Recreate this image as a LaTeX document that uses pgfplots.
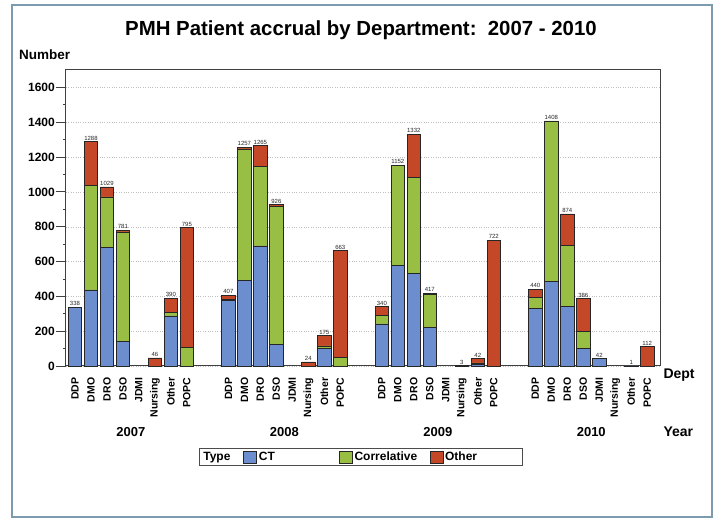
\documentclass[border=0pt]{standalone}
\usepackage{pgfplots}
\pgfplotsset{compat=1.18}
\usepackage{pgfplotstable}
\usetikzlibrary{calc}
\usepackage{fontspec}
\setmainfont{Liberation Sans}
\definecolor{ctc}{RGB}{108,141,206}
\definecolor{corc}{RGB}{152,190,67}
\definecolor{othc}{RGB}{196,72,40}
\definecolor{framec}{RGB}{125,155,175}
\pgfplotstableread{
x CT Corr Oth tot lab
0 338 0 0 338 338
1 437 599 252 1288 1288
2 681 290 58 1029 1029
3 140 630 11 781 781
4 0 0 0 0 {}
5 0 0 46 46 46
6 288 20 82 390 390
7 0 108 687 795 795
9.6 378 5 24 407 407
10.6 492 755 10 1257 1257
11.6 690 457 118 1265 1265
12.6 122 796 8 926 926
13.6 0 0 0 0 {}
14.6 0 0 24 24 24
15.6 100 15 60 175 175
16.6 0 48 615 663 663
19.2 242 48 50 340 340
20.2 577 575 0 1152 1152
21.2 533 550 249 1332 1332
22.2 222 188 7 417 417
23.2 0 0 0 0 {}
24.2 0 0 3 3 3
25.2 8 10 24 42 42
26.2 0 0 722 722 722
28.8 332 63 45 440 440
29.8 487 921 0 1408 1408
30.8 341 351 182 874 874
31.8 100 100 186 386 386
32.8 42 0 0 42 42
33.8 0 0 0 0 {}
34.8 1 0 0 1 1
35.8 0 0 112 112 112
}\datatab
\begin{document}
\begin{tikzpicture}[x=1pt,y=1pt]
\begin{axis}[
  scale only axis, width=594pt, height=296pt,
  clip=false,
  ybar stacked, bar width=13.5pt,
  xmin=-0.56, xmax=36.6, ymin=0, ymax=1700,
  ytick={0,200,...,1600}, minor y tick num=1,
  ytick pos=left, tick align=outside,
  major tick length=10pt, minor tick length=3pt,
  ymajorgrids, major grid style={dotted, black!25},
  axis line style={black!75, line width=1pt},
  every tick/.style={black!75, line width=0.8pt},
  yticklabel style={font=\bfseries\fontsize{12}{14}\selectfont, inner sep=1pt, /pgf/number format/assume math mode=true},
  /pgf/number format/1000 sep={},
  xtick={0,1,2,3,4,5,6,7,9.6,10.6,11.6,12.6,13.6,14.6,15.6,16.6,19.2,20.2,21.2,22.2,23.2,24.2,25.2,26.2,28.8,29.8,30.8,31.8,32.8,33.8,34.8,35.8},
  xticklabels={DDP,DMO,DRO,DSO,JDMI,Nursing,Other,POPC,DDP,DMO,DRO,DSO,JDMI,Nursing,Other,POPC,DDP,DMO,DRO,DSO,JDMI,Nursing,Other,POPC,DDP,DMO,DRO,DSO,JDMI,Nursing,Other,POPC},
  xtick style={draw=none},
  xticklabel style={rotate=90, anchor=east, font=\bfseries\fontsize{10.5}{12}\selectfont, inner sep=1.5pt},
  legend columns=4,
  legend image code/.code={\draw[#1] (0pt,-6pt) rectangle (13pt,6pt);},
  legend style={at={(0.497,-0.307)}, anchor=center, draw=black!70, line width=1pt,
    font=\bfseries\fontsize{12}{13}\selectfont, inner sep=1.5pt,
    /tikz/every even column/.append style={column sep=3pt}},
]
\addlegendimage{empty legend}
\addlegendentry{\makebox[35pt][l]{Type}}
\addplot[fill=ctc, draw=black!85, line width=0.6pt] table[x=x, y=CT] {\datatab};
\addlegendentry{\makebox[75pt][l]{CT}}
\addplot[fill=corc, draw=black!85, line width=0.6pt] table[x=x, y=Corr] {\datatab};
\addlegendentry{\makebox[70pt][l]{Correlative}}
\addplot[fill=othc, draw=black!85, line width=0.6pt] table[x=x, y=Oth] {\datatab};
\addlegendentry{\makebox[74pt][l]{Other}}
\coordinate (O) at (rel axis cs:0,0);
\coordinate (P) at (axis cs:0,0);
\node[font=\bfseries\fontsize{13}{15}\selectfont] at (axis cs:3.5,0) [yshift=-66pt] {2007};
\node[font=\bfseries\fontsize{13}{15}\selectfont] at (axis cs:13.1,0) [yshift=-66pt] {2008};
\node[font=\bfseries\fontsize{13}{15}\selectfont] at (axis cs:22.7,0) [yshift=-66pt] {2009};
\node[font=\bfseries\fontsize{13}{15}\selectfont] at (axis cs:32.3,0) [yshift=-66pt] {2010};
\end{axis}
\begin{axis}[
  at={(P)}, anchor=origin,
  scale only axis, width=594pt, height=296pt,
  clip=false, hide axis,
  xmin=-0.56, xmax=36.6, ymin=0, ymax=1700,
]
\addplot[draw=none, mark=none,
  point meta=explicit symbolic,
  nodes near coords={\pgfplotspointmeta},
  every node near coord/.append style={font=\fontsize{6}{7}\selectfont, inner sep=1.2pt, black!85, anchor=south}]
  table[x=x, y=tot, meta=lab] {\datatab};
\end{axis}
\begin{scope}[shift={($(O)+(-66pt,-161pt)$)}]
\path[use as bounding box] (0,0) rectangle (715,527);
\draw[framec, line width=2pt] (12,10) rectangle (712,522);
\node[font=\bfseries\fontsize{20.4}{24}\selectfont] at (361,497) {PMH Patient accrual by Department:\ \ 2007 - 2010};
\node[anchor=west, font=\bfseries\fontsize{13.5}{15}\selectfont, inner sep=0pt] at (19,472) {Number};
\node[anchor=west, font=\bfseries\fontsize{14}{16}\selectfont] at (660,152) {Dept};
\node[anchor=west, font=\bfseries\fontsize{14}{16}\selectfont] at (660,95) {Year};
\end{scope}
\end{tikzpicture}
\end{document}
